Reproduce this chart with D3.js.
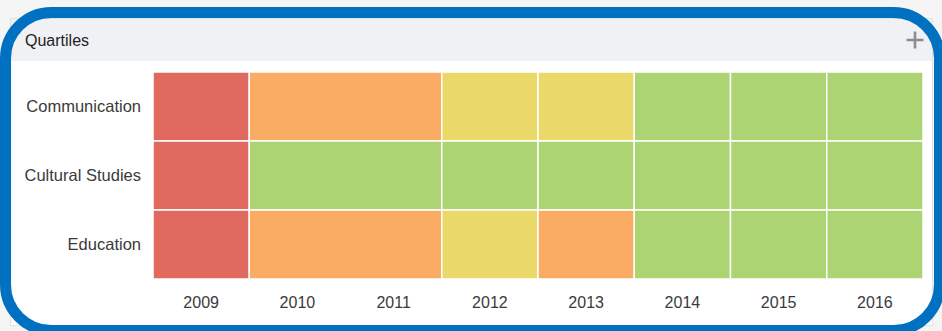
<!DOCTYPE html>
<html>
<head>
<meta charset="utf-8">
<script src="https://cdn.jsdelivr.net/npm/d3@7"></script>
<style>
  html, body { margin: 0; padding: 0; background: #f5f5f5; }
  svg { display: block; font-family: "Liberation Sans", Arial, sans-serif; }
</style>
</head>
<body>
<svg id="chart" width="942" height="331"></svg>
<script>
// Subject categories (rows) and the year axis
const categories = ["Communication", "Cultural Studies", "Education"];
const years = ["2009", "2010", "2011", "2012", "2013", "2014", "2015", "2016"];

// Years that carry a ranking; each one fills the axis up to the next listed year
const rankedYears = ["2009", "2010", "2012", "2013", "2014", "2015", "2016"];

// Quartile per ranked year for each category (1 = best, 4 = worst)
const communication   = [4, 3, 2, 2, 1, 1, 1];
const culturalStudies = [4, 1, 1, 1, 1, 1, 1];
const education       = [4, 3, 2, 3, 1, 1, 1];

const quartileColors = ["#a4cf63", "#e8d559", "#fba353", "#dd5a4e"];

const rows = [communication, culturalStudies, education];
const cells = [];
categories.forEach((cat, i) => {
  rows[i].forEach((q, j) => cells.push({
    category: cat,
    year: rankedYears[j],
    until: rankedYears[j + 1] || null,
    q: q
  }));
});

const svg = d3.select("#chart");
const W = 942, H = 331;

// page background
svg.append("rect").attr("width", W).attr("height", H).attr("fill", "#f5f5f5");

// widget panel and its header band
svg.append("rect")
  .attr("x", 10.5).attr("y", 18.5).attr("width", 922).attr("height", 307)
  .attr("fill", "#ffffff").attr("stroke", "#e2e2e2");
svg.append("rect")
  .attr("x", 11).attr("y", 19).attr("width", 921).attr("height", 42)
  .attr("fill", "#f0f1f5");

svg.append("text")
  .attr("x", 25).attr("y", 46)
  .attr("font-size", 16).attr("fill", "#222")
  .text("Quartiles");

// expand control
const plus = svg.append("g").attr("transform", "translate(915,40)")
  .attr("stroke", "#8c8c8c").attr("stroke-width", 2.6);
plus.append("line").attr("x1", -8.5).attr("x2", 8.5).attr("y1", 0).attr("y2", 0);
plus.append("line").attr("x1", 0).attr("x2", 0).attr("y1", -8.5).attr("y2", 8.5);

// heatmap
const margin = { left: 153, top: 72, right: 923, bottom: 279 };
const x = d3.scaleBand().domain(years).range([margin.left, margin.right]).padding(0);
const y = d3.scaleBand().domain(categories).range([margin.top, margin.bottom]).padding(0);
const color = d3.scaleOrdinal().domain([1, 2, 3, 4]).range(quartileColors);

svg.append("g").selectAll("rect")
  .data(cells)
  .join("rect")
  .attr("x", d => x(d.year))
  .attr("y", d => y(d.category))
  .attr("width", d => (d.until ? x(d.until) : margin.right) - x(d.year))
  .attr("height", y.bandwidth())
  .attr("fill", d => color(d.q))
  .attr("fill-opacity", 0.9)
  .attr("stroke", "#ffffff")
  .attr("stroke-width", 1.5);

const xAxis = svg.append("g")
  .attr("transform", `translate(0,${margin.bottom})`)
  .call(d3.axisBottom(x).tickSize(0).tickPadding(18));
const yAxis = svg.append("g")
  .attr("transform", `translate(${margin.left},0)`)
  .call(d3.axisLeft(y).tickSize(0).tickPadding(12));

[xAxis, yAxis].forEach(a => {
  a.select(".domain").remove();
  a.selectAll("text")
    .attr("font-family", "'Liberation Sans', Arial, sans-serif")
    .attr("fill", "#3a3a3a");
});
xAxis.selectAll("text").attr("font-size", 16);
yAxis.selectAll("text").attr("font-size", 16.5);

// rounded blue frame
svg.append("rect")
  .attr("x", 5.5).attr("y", 12.5).attr("width", 934).attr("height", 318)
  .attr("rx", 46).attr("ry", 46)
  .attr("fill", "none")
  .attr("stroke", "#0071c1")
  .attr("stroke-width", 11);
</script>
</body>
</html>
